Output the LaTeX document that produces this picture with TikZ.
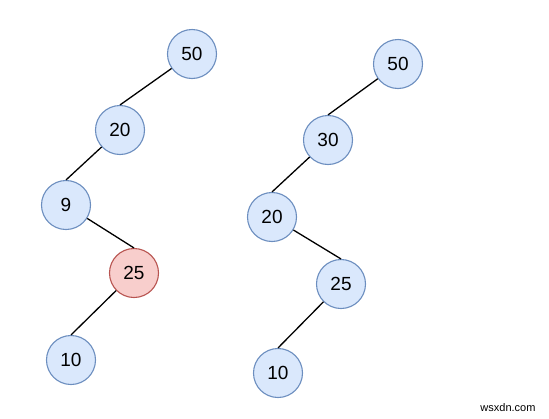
\documentclass[tikz,border=0pt]{standalone}
\usepackage{fontspec}
\setmainfont{Liberation Sans}
\definecolor{keyfill}{HTML}{DAE8FC}
\definecolor{keyline}{HTML}{6C8EBF}
\definecolor{badfill}{HTML}{F8CECC}
\definecolor{badline}{HTML}{B85450}

\begin{document}
\begin{tikzpicture}[x=1pt,y=1pt]
\tikzstyle{every node}+=[inner sep=0pt]
\tikzstyle{key}=[circle, minimum size=49pt, draw=keyline, fill=keyfill, line width=1.1pt, font=\fontsize{19}{19}\selectfont]
\tikzstyle{bad}=[key, draw=badline, fill=badfill]
\tikzstyle{edge}=[black, line width=1.3pt]
\useasboundingbox (0,0) rectangle (549,-418);
% left tree
\node [key] (l50) at (192,-54) {50};
\node [key] (l20) at (120,-130) {20};
\node [key] (l9) at (66,-205) {9};
\node [bad] (l25) at (134,-273) {25};
\node [key] (l10) at (71,-360) {10};
\draw [edge] (l50) -- (l20.north);
\draw [edge] (l20) -- (l9.north);
\draw [edge] (l9) -- (l25.north);
\draw [edge] (l25) -- (l10.north);
% right tree
\node [key] (r50) at (398,-64) {50};
\node [key] (r30) at (328,-140) {30};
\node [key] (r20) at (272,-217) {20};
\node [key] (r25) at (341,-284) {25};
\node [key] (r10) at (278,-373) {10};
\draw [edge] (r50) -- (r30.north);
\draw [edge] (r30) -- (r20.north);
\draw [edge] (r20) -- (r25.north);
\draw [edge] (r25) -- (r10.north);
\node [font=\fontsize{11}{11}\selectfont] (mark) at (508,-408) {wsxdn.com};
\end{tikzpicture}
\end{document}
